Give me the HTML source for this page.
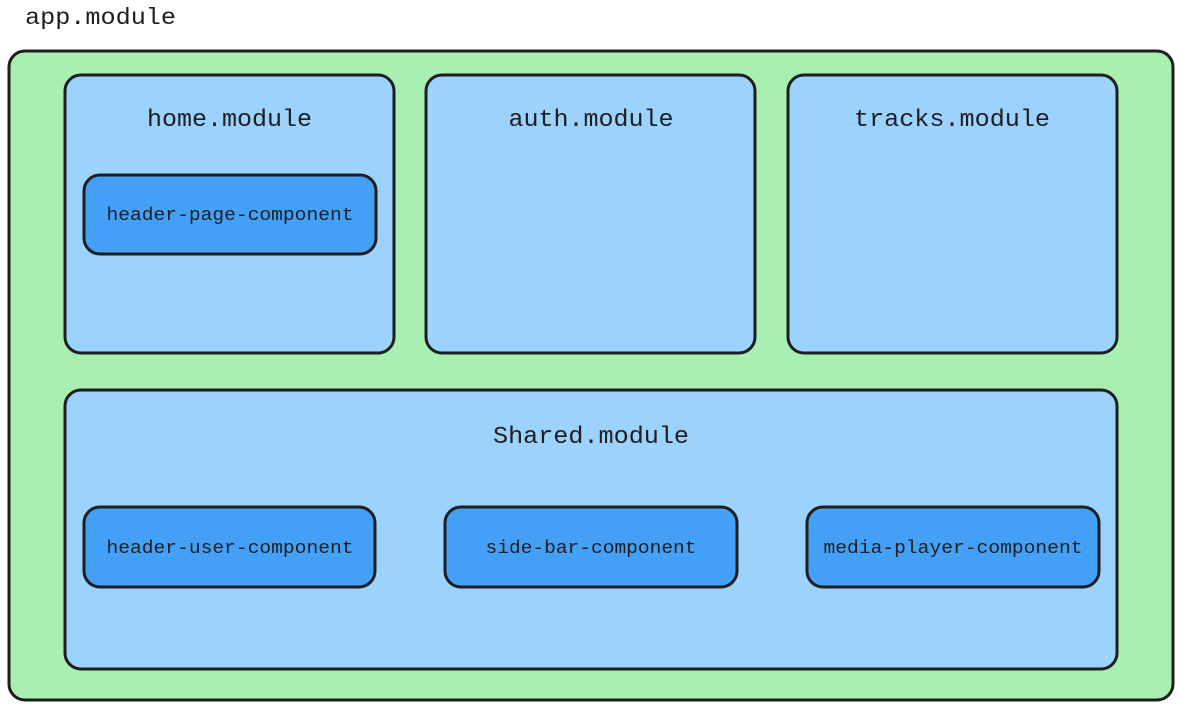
<!DOCTYPE html>
<html><head><meta charset="utf-8"><style>
html,body{margin:0;padding:0;background:#fff;}
svg{display:block}
text{font-family:"Liberation Mono","DejaVu Sans Mono",monospace;fill:#1e1e1e}
</style></head><body>
<svg width="1178" height="709" viewBox="0 0 1178 709" xmlns="http://www.w3.org/2000/svg">
<text x="25" y="24" font-size="23" textLength="151" lengthAdjust="spacingAndGlyphs">app.module</text>
<g stroke="#1e1e1e" stroke-width="3">
<rect x="9" y="51" width="1164" height="649" rx="16" fill="#a8f0b1"/>
<rect x="65" y="75" width="329" height="278" rx="16" fill="#9bd2fe"/>
<rect x="426" y="75" width="329" height="278" rx="16" fill="#9bd2fe"/>
<rect x="788" y="75" width="329" height="278" rx="16" fill="#9bd2fe"/>
<rect x="65" y="390" width="1052" height="279" rx="16" fill="#9bd2fe"/>
<rect x="84" y="175" width="292" height="79" rx="16" fill="#44a0f7"/>
<rect x="84" y="507" width="291" height="80" rx="16" fill="#44a0f7"/>
<rect x="445" y="507" width="292" height="80" rx="16" fill="#44a0f7"/>
<rect x="807" y="507" width="292" height="80" rx="16" fill="#44a0f7"/>
</g>
<g font-size="24" text-anchor="middle">
<text x="229.5" y="126" textLength="165" lengthAdjust="spacingAndGlyphs">home.module</text>
<text x="591" y="126" textLength="165" lengthAdjust="spacingAndGlyphs">auth.module</text>
<text x="952" y="126" textLength="196" lengthAdjust="spacingAndGlyphs">tracks.module</text>
<text x="591" y="443" textLength="196" lengthAdjust="spacingAndGlyphs">Shared.module</text>
</g>
<g font-size="18" text-anchor="middle">
<text x="230" y="220" textLength="247" lengthAdjust="spacingAndGlyphs">header-page-component</text>
<text x="230" y="553" textLength="247" lengthAdjust="spacingAndGlyphs">header-user-component</text>
<text x="591" y="553" textLength="211" lengthAdjust="spacingAndGlyphs">side-bar-component</text>
<text x="953" y="553" textLength="259" lengthAdjust="spacingAndGlyphs">media-player-component</text>
</g>
</svg>
</body></html>
